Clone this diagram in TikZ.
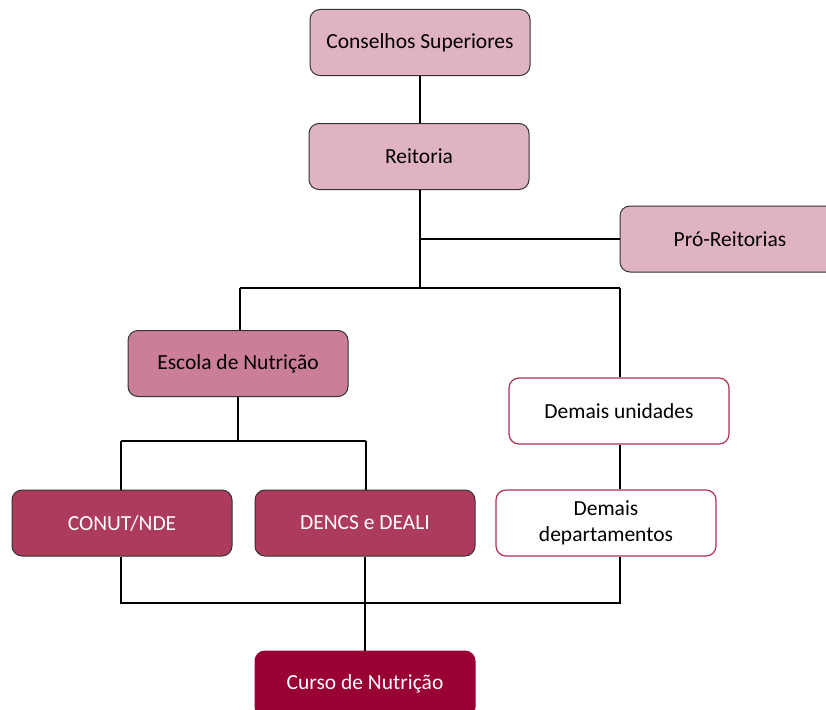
\documentclass[tikz,border=0pt]{standalone}
\usepackage{fontspec}
\setmainfont{Carlito}
\definecolor{pinkA}{HTML}{E0B3C1}
\definecolor{pinkB}{HTML}{CB7F96}
\definecolor{pinkC}{HTML}{AD3B5C}
\definecolor{pinkD}{HTML}{990033}
\definecolor{redline}{HTML}{B0304F}
\definecolor{edge}{HTML}{333333}
\begin{document}
\begin{tikzpicture}[x=1pt,y=-1pt,
  box/.style={rounded corners=10pt, minimum width=220pt, minimum height=66pt,
    draw=edge, line width=1pt, font=\fontsize{21.5}{26}\selectfont, align=center, inner sep=0pt},
  lvlA/.style={box, fill=pinkA},
  lvlB/.style={box, fill=pinkB},
  lvlC/.style={box, fill=pinkC, text=white},
  lvlD/.style={box, fill=pinkD, text=white, draw=pinkD},
  whitebox/.style={box, fill=white, draw=redline, line width=1.2pt},
  link/.style={draw=black, line width=1.3pt}]
\useasboundingbox (0,0) rectangle (826,709);
\clip (0,0) rectangle (826,709);
\node[lvlA] (cs) at (420,42.5) {Conselhos Superiores};
\node[lvlA] (rei) at (419,156.5) {Reitoria};
\node[lvlA] (pro) at (730,239) {Pró-Reitorias};
\node[lvlB] (esc) at (238,363.5) {Escola de Nutrição};
\node[whitebox] (du) at (619,411) {Demais unidades};
\node[whitebox] (dd) at (606,523) {Demais\\departamentos};
\node[lvlC] (conut) at (122,523) {CONUT/NDE};
\node[lvlC] (dencs) at (365,523) {DENCS e DEALI};
\node[lvlD] (curso) at (365,684) {Curso de Nutrição};
\coordinate (j1) at (420,288);
\coordinate (j2) at (238,441);
\coordinate (j3) at (365,603);
\path[link] (cs.south -| 420,0) -- (rei.north -| 420,0);
\path[link] (rei.south -| 420,0) -- (j1);
\path[link] (420,239) -- (pro.west);
\path[link] (240,288) -- (620,288);
\path[link] (240,288) -- (esc.north -| 240,0);
\path[link] (620,288) -- (du.north -| 620,0);
\path[link] (esc.south) -- (j2);
\path[link] (121,441) -- (366,441);
\path[link] (121,441) -- (conut.north -| 121,0);
\path[link] (366,441) -- (dencs.north -| 366,0);
\path[link] (du.south -| 620,0) -- (dd.north -| 620,0);
\path[link] (conut.south -| 121,0) -- (121,603) -- (620,603) -- (dd.south -| 620,0);
\path[link] (dencs.south) -- (curso.north);
\end{tikzpicture}
\end{document}
